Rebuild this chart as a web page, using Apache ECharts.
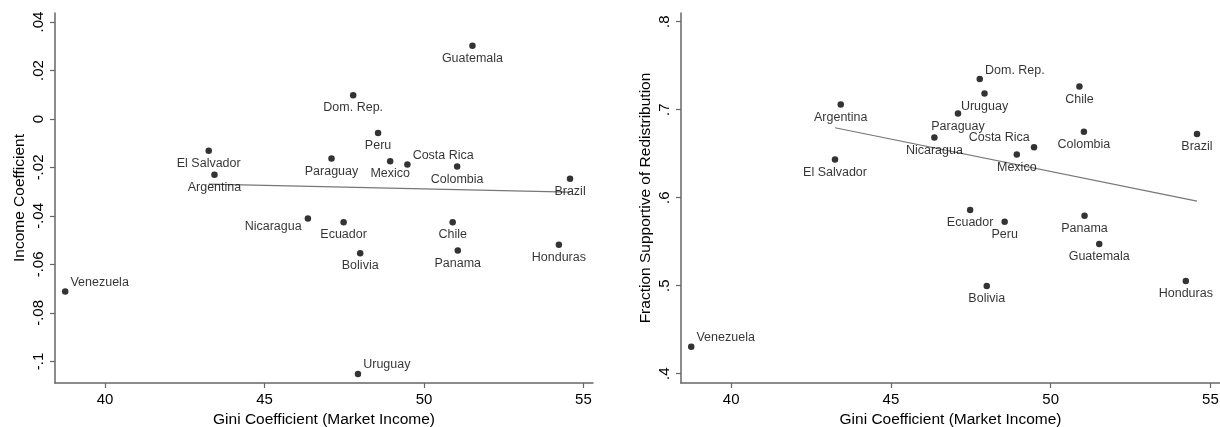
<!DOCTYPE html>
<html>
<head>
<meta charset="utf-8">
<script src="https://cdn.jsdelivr.net/npm/echarts@6/dist/echarts.min.js"></script>
<style>
html, body { margin: 0; padding: 0; background: #fff; }
#chart { width: 1220px; height: 427px; }
</style>
</head>
<body>
<div id="chart"></div>
<script>
// data
const countries = ['Venezuela', 'El Salvador', 'Argentina', 'Nicaragua', 'Paraguay', 'Ecuador', 'Dom. Rep.', 'Uruguay', 'Bolivia',
  'Peru', 'Mexico', 'Costa Rica', 'Chile', 'Colombia', 'Panama', 'Guatemala', 'Honduras', 'Brazil']
const gini = [38.75, 43.25, 43.43, 46.36, 47.1, 47.48, 47.78, 47.93, 48.0,
  48.56, 48.94, 49.48, 50.9, 51.04, 51.06, 51.52, 54.23, 54.58]
const incomeCoef = [-0.0712, -0.0131, -0.023, -0.0411, -0.0163, -0.0426, 0.0098, -0.1052, -0.0554,
  -0.0058, -0.0174, -0.0188, -0.0426, -0.0196, -0.0543, 0.0302, -0.0519, -0.0247]
const support = [0.4307, 0.6435, 0.706, 0.6685, 0.6958, 0.5859, 0.7348, 0.7185, 0.4995,
  0.5727, 0.6492, 0.6572, 0.7265, 0.675, 0.5795, 0.5473, 0.5052, 0.6723]

// fitted lines (end points)
const fitX = [43.25, 54.58]
const incomeFit = [-0.0269, -0.0302]
const supportFit = [0.6795, 0.5961]

// tick labels
const giniTicks = [40, 45, 50, 55]
const incomeTicks = [-0.1, -0.08, -0.06, -0.04, -0.02, 0, 0.02, 0.04]
const supportTicks = [0.4, 0.5, 0.6, 0.7, 0.8]

const font = '"Liberation Sans", Arial, sans-serif'

// where a label sits relative to its marker (default: below)
const placeLeft = { 'Venezuela': 'ur', 'Uruguay': 'ur', 'Costa Rica': 'ur', 'Nicaragua': 'l' }
const placeRight = { 'Venezuela': 'ur', 'Dom. Rep.': 'ur', 'Costa Rica': 'ul' }
const labelFor = p => {
  if (p === 'ur') return { position: 'right', distance: 2, offset: [0, -9] }
  if (p === 'ul') return { position: 'left', distance: 1, offset: [0, -10] }
  if (p === 'l') return { position: 'left', distance: 3, offset: [0, 8] }
  return { position: 'bottom', distance: 3 }
}

// Stata style numbers: .04, -.02, 0
const stataNum = v => {
  if (Math.abs(v) < 1e-9) return '0'
  return String(+v.toFixed(2)).replace(/^(-?)0\./, '$1.')
}

const axisLine = { show: true, onZero: false, lineStyle: { color: '#666', width: 1.5 } }
const axisTick = (vals) => ({ show: true, inside: false, length: 5, customValues: vals, lineStyle: { color: '#666', width: 1.2 } })
const nameStyle = { color: '#000', fontSize: 15.5, fontFamily: font }

const xAxis = (idx) => ({
  type: 'value',
  gridIndex: idx,
  min: 38.43,
  max: 55.3,
  name: 'Gini Coefficient (Market Income)',
  nameLocation: 'middle',
  nameGap: 26,
  nameTextStyle: nameStyle,
  axisLine: axisLine,
  axisTick: axisTick(giniTicks),
  axisLabel: { customValues: giniTicks, color: '#000', fontSize: 15, fontFamily: font, margin: 9 },
  splitLine: { show: false }
})

const yAxis = (idx, name, min, max, ticks) => ({
  type: 'value',
  gridIndex: idx,
  min: min,
  max: max,
  name: name,
  nameLocation: 'middle',
  nameGap: 27,
  nameTextStyle: nameStyle,
  axisLine: axisLine,
  axisTick: axisTick(ticks),
  axisLabel: { customValues: ticks, rotate: 90, color: '#000', fontSize: 15, fontFamily: font, margin: 9, formatter: stataNum },
  splitLine: { show: false }
})

const points = (ys, place, idx) => ({
  type: 'scatter',
  xAxisIndex: idx,
  yAxisIndex: idx,
  symbolSize: 6.5,
  itemStyle: { color: '#000' },
  label: { show: true, formatter: '{b}', color: '#000', fontSize: 12.5, lineHeight: 13, fontFamily: font },
  data: countries.map((n, i) => ({ name: n, value: [gini[i], ys[i]], label: labelFor(place[n]) })),
  z: 3
})

const fit = (ys, idx) => ({
  type: 'line',
  xAxisIndex: idx,
  yAxisIndex: idx,
  showSymbol: false,
  lineStyle: { color: '#777', width: 1.2 },
  data: fitX.map((x, i) => [x, ys[i]]),
  z: 2
})

const chart = echarts.init(document.getElementById('chart'))
chart.setOption({
  animation: false,
  backgroundColor: '#fff',
  grid: [
    { left: 55, top: 13, width: 538, height: 370, containLabel: false, outerBoundsMode: 'none' },
    { left: 681, top: 13, width: 539, height: 370, containLabel: false, outerBoundsMode: 'none' }
  ],
  xAxis: [xAxis(0), xAxis(1)],
  yAxis: [
    yAxis(0, 'Income Coefficient', -0.1089, 0.0437, incomeTicks),
    yAxis(1, 'Fraction Supportive of Redistribution', 0.3894, 0.8099, supportTicks)
  ],
  series: [
    fit(incomeFit, 0),
    points(incomeCoef, placeLeft, 0),
    fit(supportFit, 1),
    points(support, placeRight, 1)
  ]
})
</script>
</body>
</html>
